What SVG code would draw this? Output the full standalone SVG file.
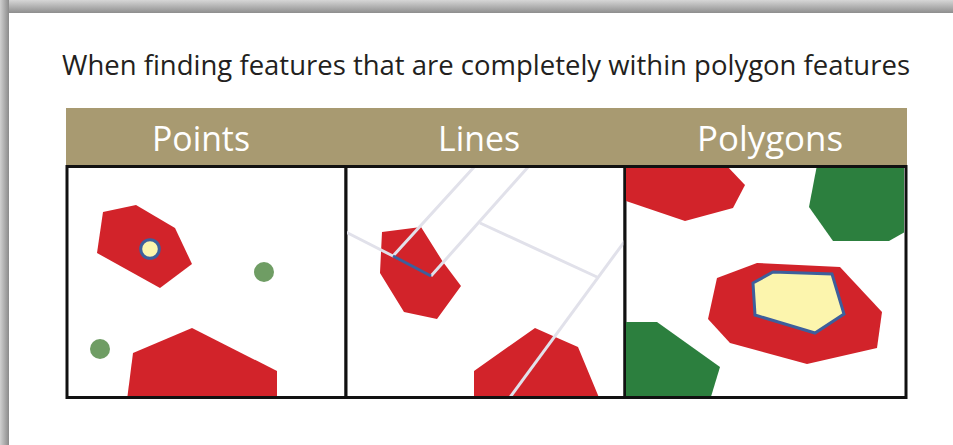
<svg xmlns="http://www.w3.org/2000/svg" width="953" height="445" viewBox="0 0 953 445">
  <defs>
    <linearGradient id="topShade" x1="0" y1="0" x2="0" y2="1">
      <stop offset="0" stop-color="#d6d6d6"/>
      <stop offset="1" stop-color="#8e8e8e"/>
    </linearGradient>
    <linearGradient id="leftShade" x1="0" y1="0" x2="1" y2="0">
      <stop offset="0" stop-color="#d0d0d0"/>
      <stop offset="1" stop-color="#8a8a8a"/>
    </linearGradient>
    <clipPath id="clipP1"><rect x="68" y="168" width="277" height="228"/></clipPath>
    <clipPath id="clipP2"><rect x="347" y="168" width="277" height="228"/></clipPath>
    <clipPath id="clipP3"><rect x="626" y="168" width="278" height="228"/></clipPath>
    <style>
      .title { font-family: "Open Sans", "Noto Sans", sans-serif; font-size: 26.5px; fill: #231f20; }
      .head { font-family: "Open Sans", "Noto Sans", sans-serif; font-size: 35px; fill: #ffffff; text-anchor: middle; }
      .frame { fill: #ffffff; stroke: #111111; stroke-width: 3; }
      .red { fill: #d2232a; }
      .green { fill: #2c7f3e; }
      .dot { fill: #6f9d64; }
      .road { fill: none; stroke: #e1e1ea; stroke-width: 3; stroke-linecap: butt; stroke-linejoin: miter; }
      .hit { stroke: #3d5f9c; stroke-width: 3; }
      .core { fill: #fcf5ad; stroke: #3d5f9c; stroke-width: 3; }
    </style>
  </defs>

  <!-- page background with a soft shadow along top and left -->
  <rect x="0" y="0" width="953" height="445" fill="#c4c4c4"/>
  <rect x="0" y="0" width="953" height="13" fill="url(#topShade)"/>
  <rect x="0" y="0" width="9" height="445" fill="url(#leftShade)"/>
  <rect x="9" y="13" width="944" height="432" fill="#ffffff"/>

  <text id="title" class="title" x="62" y="75" textLength="848" lengthAdjust="spacingAndGlyphs">When finding features that are completely within polygon features</text>

  <!-- header band -->
  <g id="header">
    <rect x="66" y="108" width="841" height="58" fill="#a89a71"/>
    <text class="head" x="201" y="151" textLength="98" lengthAdjust="spacingAndGlyphs">Points</text>
    <text class="head" x="479" y="151" textLength="82" lengthAdjust="spacingAndGlyphs">Lines</text>
    <text class="head" x="770" y="151" textLength="146" lengthAdjust="spacingAndGlyphs">Polygons</text>
  </g>

  <!-- Points panel -->
  <g id="panel-points">
    <rect class="frame" x="67" y="166.5" width="279" height="231"/>
    <g clip-path="url(#clipP1)">
      <polygon class="red" points="103,212 136,205 175,228 192,264 160,288 97,253"/>
      <polygon class="red" points="133,353 192,328 277,371 277,400 127,400"/>
      <circle class="dot" cx="264" cy="272" r="10"/>
      <circle class="dot" cx="100" cy="349" r="10"/>
      <circle class="core" cx="150" cy="249" r="9.3"/>
    </g>
  </g>

  <!-- Lines panel -->
  <g id="panel-lines">
    <rect class="frame" x="346" y="166.5" width="279" height="231"/>
    <g clip-path="url(#clipP2)">
      <polygon class="red" points="382,232 421,227 443,262 461,286 437,319 404,312 380,273"/>
      <polygon class="red" points="474,371 535,328 553,336 578,347 600,400 474,400"/>
      <g id="connectors">
        <polyline class="road" points="340,229 393,256 475,166"/>
        <line class="road" x1="431" y1="276" x2="529" y2="166"/>
        <line class="road" x1="480" y1="223" x2="597" y2="277"/>
        <line class="road" x1="630" y1="234" x2="508" y2="400"/>
        <line class="road hit" x1="393" y1="256" x2="431" y2="276"/>
      </g>
    </g>
  </g>

  <!-- Polygons panel -->
  <g id="panel-polygons">
    <rect class="frame" x="625" y="166.5" width="281" height="231"/>
    <g clip-path="url(#clipP3)">
      <polygon class="red" points="620,165 726,165 745,185 733,208 685,221 620,199"/>
      <polygon class="green" points="817,165 910,165 910,229 889,241 833,241 809,207"/>
      <polygon class="green" points="620,322 657,322 720,367 710,400 620,400"/>
      <polygon class="red" points="717,278 757,263 840,267 882,312 877,348 807,364 730,343 708,319"/>
      <polygon class="core" points="753,283 773,272 832,274 844,314 815,333 755,315"/>
    </g>
  </g>
</svg>
